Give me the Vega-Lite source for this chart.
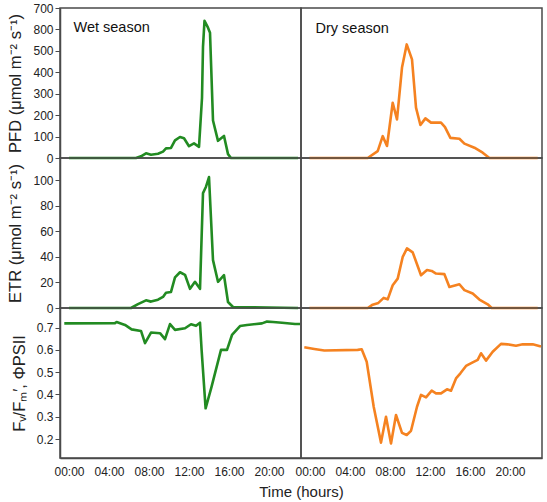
{
  "$schema": "https://vega.github.io/schema/vega-lite/v6.json",
  "background": "white",
  "padding": {"left": 7, "top": 1, "right": 2, "bottom": 0},
  "data": {"values": [
    {"s":"Wet","m":"PFD","h":0,"v":0},{"s":"Wet","m":"PFD","h":6.7,"v":0},{"s":"Wet","m":"PFD","h":7.2,"v":8},{"s":"Wet","m":"PFD","h":7.7,"v":22},{"s":"Wet","m":"PFD","h":8.2,"v":15},{"s":"Wet","m":"PFD","h":8.9,"v":20},{"s":"Wet","m":"PFD","h":9.4,"v":30},{"s":"Wet","m":"PFD","h":9.7,"v":45},{"s":"Wet","m":"PFD","h":10.2,"v":47},{"s":"Wet","m":"PFD","h":10.6,"v":82},{"s":"Wet","m":"PFD","h":11.1,"v":98},{"s":"Wet","m":"PFD","h":11.5,"v":92},{"s":"Wet","m":"PFD","h":12.0,"v":55},{"s":"Wet","m":"PFD","h":12.5,"v":68},{"s":"Wet","m":"PFD","h":13.0,"v":52},{"s":"Wet","m":"PFD","h":13.3,"v":280},{"s":"Wet","m":"PFD","h":13.4,"v":520},{"s":"Wet","m":"PFD","h":13.55,"v":640},{"s":"Wet","m":"PFD","h":13.9,"v":608},{"s":"Wet","m":"PFD","h":14.1,"v":585},{"s":"Wet","m":"PFD","h":14.4,"v":175},{"s":"Wet","m":"PFD","h":14.9,"v":80},{"s":"Wet","m":"PFD","h":15.5,"v":103},{"s":"Wet","m":"PFD","h":15.9,"v":18},{"s":"Wet","m":"PFD","h":16.2,"v":0},{"s":"Wet","m":"PFD","h":22.9,"v":0},
    {"s":"Wet","m":"ETR","h":0,"v":0},{"s":"Wet","m":"ETR","h":6.2,"v":0},{"s":"Wet","m":"ETR","h":6.9,"v":3},{"s":"Wet","m":"ETR","h":7.7,"v":6},{"s":"Wet","m":"ETR","h":8.2,"v":5},{"s":"Wet","m":"ETR","h":8.9,"v":6.5},{"s":"Wet","m":"ETR","h":9.4,"v":8.7},{"s":"Wet","m":"ETR","h":9.7,"v":12},{"s":"Wet","m":"ETR","h":10.2,"v":12.6},{"s":"Wet","m":"ETR","h":10.6,"v":24},{"s":"Wet","m":"ETR","h":11.1,"v":28},{"s":"Wet","m":"ETR","h":11.6,"v":26},{"s":"Wet","m":"ETR","h":12.1,"v":15},{"s":"Wet","m":"ETR","h":12.6,"v":20.5},{"s":"Wet","m":"ETR","h":13.1,"v":15},{"s":"Wet","m":"ETR","h":13.4,"v":90},{"s":"Wet","m":"ETR","h":13.7,"v":95},{"s":"Wet","m":"ETR","h":14.0,"v":102.6},{"s":"Wet","m":"ETR","h":14.4,"v":37.5},{"s":"Wet","m":"ETR","h":14.9,"v":20.5},{"s":"Wet","m":"ETR","h":15.5,"v":25.7},{"s":"Wet","m":"ETR","h":15.9,"v":4.7},{"s":"Wet","m":"ETR","h":16.4,"v":0.8},{"s":"Wet","m":"ETR","h":22.9,"v":0},
    {"s":"Wet","m":"FvFm","h":-0.47,"v":0.719},{"s":"Wet","m":"FvFm","h":4.6,"v":0.72},{"s":"Wet","m":"FvFm","h":4.76,"v":0.725},{"s":"Wet","m":"FvFm","h":5.6,"v":0.712},{"s":"Wet","m":"FvFm","h":6.26,"v":0.692},{"s":"Wet","m":"FvFm","h":7.2,"v":0.685},{"s":"Wet","m":"FvFm","h":7.6,"v":0.63},{"s":"Wet","m":"FvFm","h":8.2,"v":0.678},{"s":"Wet","m":"FvFm","h":9.1,"v":0.675},{"s":"Wet","m":"FvFm","h":9.6,"v":0.648},{"s":"Wet","m":"FvFm","h":10.1,"v":0.716},{"s":"Wet","m":"FvFm","h":10.6,"v":0.69},{"s":"Wet","m":"FvFm","h":11.6,"v":0.697},{"s":"Wet","m":"FvFm","h":12.2,"v":0.715},{"s":"Wet","m":"FvFm","h":12.7,"v":0.708},{"s":"Wet","m":"FvFm","h":13.1,"v":0.722},{"s":"Wet","m":"FvFm","h":13.26,"v":0.6},{"s":"Wet","m":"FvFm","h":13.66,"v":0.338},{"s":"Wet","m":"FvFm","h":14.26,"v":0.435},{"s":"Wet","m":"FvFm","h":15.2,"v":0.6},{"s":"Wet","m":"FvFm","h":15.8,"v":0.6},{"s":"Wet","m":"FvFm","h":16.3,"v":0.667},{"s":"Wet","m":"FvFm","h":17.1,"v":0.707},{"s":"Wet","m":"FvFm","h":17.8,"v":0.712},{"s":"Wet","m":"FvFm","h":19.3,"v":0.719},{"s":"Wet","m":"FvFm","h":19.8,"v":0.727},{"s":"Wet","m":"FvFm","h":20.4,"v":0.725},{"s":"Wet","m":"FvFm","h":21.3,"v":0.722},{"s":"Wet","m":"FvFm","h":22.6,"v":0.716},{"s":"Wet","m":"FvFm","h":23.1,"v":0.716},
    {"s":"Dry","m":"PFD","h":-0.06,"v":0},{"s":"Dry","m":"PFD","h":5.77,"v":0},{"s":"Dry","m":"PFD","h":6.77,"v":32},{"s":"Dry","m":"PFD","h":7.27,"v":102},{"s":"Dry","m":"PFD","h":7.7,"v":56},{"s":"Dry","m":"PFD","h":8.27,"v":258},{"s":"Dry","m":"PFD","h":8.7,"v":180},{"s":"Dry","m":"PFD","h":9.2,"v":422},{"s":"Dry","m":"PFD","h":9.67,"v":530},{"s":"Dry","m":"PFD","h":10.2,"v":460},{"s":"Dry","m":"PFD","h":10.6,"v":235},{"s":"Dry","m":"PFD","h":11.04,"v":154},{"s":"Dry","m":"PFD","h":11.54,"v":185},{"s":"Dry","m":"PFD","h":12.1,"v":165},{"s":"Dry","m":"PFD","h":13.1,"v":165},{"s":"Dry","m":"PFD","h":13.5,"v":144},{"s":"Dry","m":"PFD","h":14.04,"v":94},{"s":"Dry","m":"PFD","h":14.94,"v":90},{"s":"Dry","m":"PFD","h":15.44,"v":67},{"s":"Dry","m":"PFD","h":16.44,"v":48},{"s":"Dry","m":"PFD","h":17.27,"v":25},{"s":"Dry","m":"PFD","h":17.94,"v":0},{"s":"Dry","m":"PFD","h":22.77,"v":0},
    {"s":"Dry","m":"ETR","h":-0.06,"v":0},{"s":"Dry","m":"ETR","h":5.77,"v":0},{"s":"Dry","m":"ETR","h":6.27,"v":2.6},{"s":"Dry","m":"ETR","h":6.84,"v":4},{"s":"Dry","m":"ETR","h":7.37,"v":7.9},{"s":"Dry","m":"ETR","h":7.77,"v":6.8},{"s":"Dry","m":"ETR","h":8.27,"v":17.8},{"s":"Dry","m":"ETR","h":8.77,"v":23},{"s":"Dry","m":"ETR","h":9.27,"v":40},{"s":"Dry","m":"ETR","h":9.7,"v":46.7},{"s":"Dry","m":"ETR","h":10.27,"v":43.6},{"s":"Dry","m":"ETR","h":11.1,"v":25.7},{"s":"Dry","m":"ETR","h":11.7,"v":29.7},{"s":"Dry","m":"ETR","h":12.17,"v":29},{"s":"Dry","m":"ETR","h":12.6,"v":27},{"s":"Dry","m":"ETR","h":13.44,"v":26.5},{"s":"Dry","m":"ETR","h":13.94,"v":16.5},{"s":"Dry","m":"ETR","h":14.94,"v":18.6},{"s":"Dry","m":"ETR","h":15.44,"v":14},{"s":"Dry","m":"ETR","h":16.27,"v":11.3},{"s":"Dry","m":"ETR","h":16.94,"v":6.6},{"s":"Dry","m":"ETR","h":17.77,"v":2.9},{"s":"Dry","m":"ETR","h":18.17,"v":0},{"s":"Dry","m":"ETR","h":22.77,"v":0},
    {"s":"Dry","m":"FvFm","h":-0.57,"v":0.612},{"s":"Dry","m":"FvFm","h":0.43,"v":0.604},{"s":"Dry","m":"FvFm","h":1.43,"v":0.597},{"s":"Dry","m":"FvFm","h":4.77,"v":0.6},{"s":"Dry","m":"FvFm","h":5.17,"v":0.603},{"s":"Dry","m":"FvFm","h":5.67,"v":0.547},{"s":"Dry","m":"FvFm","h":6.37,"v":0.345},{"s":"Dry","m":"FvFm","h":7.1,"v":0.184},{"s":"Dry","m":"FvFm","h":7.6,"v":0.3},{"s":"Dry","m":"FvFm","h":8.1,"v":0.18},{"s":"Dry","m":"FvFm","h":8.6,"v":0.308},{"s":"Dry","m":"FvFm","h":9.2,"v":0.228},{"s":"Dry","m":"FvFm","h":9.67,"v":0.218},{"s":"Dry","m":"FvFm","h":10.1,"v":0.237},{"s":"Dry","m":"FvFm","h":10.7,"v":0.345},{"s":"Dry","m":"FvFm","h":11.1,"v":0.398},{"s":"Dry","m":"FvFm","h":11.6,"v":0.387},{"s":"Dry","m":"FvFm","h":12.17,"v":0.417},{"s":"Dry","m":"FvFm","h":12.6,"v":0.405},{"s":"Dry","m":"FvFm","h":13.1,"v":0.405},{"s":"Dry","m":"FvFm","h":13.7,"v":0.423},{"s":"Dry","m":"FvFm","h":14.1,"v":0.417},{"s":"Dry","m":"FvFm","h":14.6,"v":0.472},{"s":"Dry","m":"FvFm","h":15.04,"v":0.495},{"s":"Dry","m":"FvFm","h":15.6,"v":0.528},{"s":"Dry","m":"FvFm","h":16.27,"v":0.544},{"s":"Dry","m":"FvFm","h":16.77,"v":0.555},{"s":"Dry","m":"FvFm","h":17.1,"v":0.585},{"s":"Dry","m":"FvFm","h":17.6,"v":0.552},{"s":"Dry","m":"FvFm","h":18.27,"v":0.592},{"s":"Dry","m":"FvFm","h":19.1,"v":0.627},{"s":"Dry","m":"FvFm","h":19.77,"v":0.625},{"s":"Dry","m":"FvFm","h":20.6,"v":0.619},{"s":"Dry","m":"FvFm","h":21.27,"v":0.625},{"s":"Dry","m":"FvFm","h":22.27,"v":0.625},{"s":"Dry","m":"FvFm","h":23.1,"v":0.615}
  ]},
  "columns": 2,
  "spacing": 0,
  "bounds": "flush",
  "concat": [
      {"width": 241, "height": 150, "layer": [
        {"transform": [{"filter": "datum.s=='Wet' && datum.m=='PFD'"}],
         "mark": {"type": "line", "color": "#228b22", "strokeWidth": 2.6, "strokeJoin": "round"},
         "encoding": {
           "x": {"field": "h", "type": "quantitative", "scale": {"domain": [-0.9, 23.2], "nice": false, "zero": false}, "axis": null},
           "y": {"field": "v", "type": "quantitative", "scale": {"domain": [0, 700], "nice": false}, "axis": {"values": [0,100,200,300,400,500,600,700], "labelOverlap": false, "labelExpr": "datum.value==600?'800':datum.label", "title": "PFD (μmol m⁻² s⁻¹)"}}
         }},
        {"data": {"values": [{"t": "Wet season"}]},
         "mark": {"type": "text", "align": "left", "baseline": "alphabetic", "fontSize": 14.5, "font": "Liberation Sans", "color": "#111"},
         "encoding": {"x": {"datum": 0.45, "type": "quantitative", "axis": null}, "y": {"datum": 590, "type": "quantitative", "axis": {"values": [0,100,200,300,400,500,600,700], "labelOverlap": false, "labelExpr": "datum.value==600?'800':datum.label", "title": "PFD (μmol m⁻² s⁻¹)"}}, "text": {"field": "t"}}}
      ]},
      {"width": 241, "height": 150, "layer": [
        {"transform": [{"filter": "datum.s=='Dry' && datum.m=='PFD'"}],
         "mark": {"type": "line", "color": "#f58220", "strokeWidth": 2.6, "strokeJoin": "round"},
         "encoding": {
           "x": {"field": "h", "type": "quantitative", "scale": {"domain": [-0.9, 23.2], "nice": false, "zero": false}, "axis": null},
           "y": {"field": "v", "type": "quantitative", "scale": {"domain": [0, 700], "nice": false}, "axis": null}
         }},
        {"data": {"values": [{"t": "Dry season"}]},
         "mark": {"type": "text", "align": "left", "baseline": "alphabetic", "fontSize": 14.5, "font": "Liberation Sans", "color": "#111"},
         "encoding": {"x": {"datum": 0.55, "type": "quantitative", "axis": null}, "y": {"datum": 585, "type": "quantitative", "axis": null}, "text": {"field": "t"}}}
      ]},
      {"width": 241, "height": 150, "transform": [{"filter": "datum.s=='Wet' && datum.m=='ETR'"}],
       "mark": {"type": "line", "color": "#228b22", "strokeWidth": 2.6, "strokeJoin": "round"},
       "encoding": {
         "x": {"field": "h", "type": "quantitative", "scale": {"domain": [-0.9, 23.2], "nice": false, "zero": false}, "axis": null},
         "y": {"field": "v", "type": "quantitative", "scale": {"domain": [0, 117.5], "nice": false}, "axis": {"values": [0,20,40,60,80,100], "labelOverlap": false, "title": "ETR (μmol m⁻² s⁻¹)"}}
       }},
      {"width": 241, "height": 150, "transform": [{"filter": "datum.s=='Dry' && datum.m=='ETR'"}],
       "mark": {"type": "line", "color": "#f58220", "strokeWidth": 2.6, "strokeJoin": "round"},
       "encoding": {
         "x": {"field": "h", "type": "quantitative", "scale": {"domain": [-0.9, 23.2], "nice": false, "zero": false}, "axis": null},
         "y": {"field": "v", "type": "quantitative", "scale": {"domain": [0, 117.5], "nice": false}, "axis": null}
       }},
      {"width": 241, "height": 150, "transform": [{"filter": "datum.s=='Wet' && datum.m=='FvFm'"}],
       "mark": {"type": "line", "color": "#228b22", "strokeWidth": 2.6, "strokeJoin": "round"},
       "encoding": {
         "x": {"field": "h", "type": "quantitative", "scale": {"domain": [-0.9, 23.2], "nice": false, "zero": false},
               "axis": {"values": [0,4,8,12,16,20], "labelOverlap": false, "labelExpr": "(datum.value<10?'0':'')+datum.value+':00'", "ticks": false, "labelPadding": 8, "title": "Time (hours)", "titleX": 241, "titleAlign": "center", "titlePadding": 7, "titleFontSize": 15}},
         "y": {"field": "v", "type": "quantitative", "scale": {"domain": [0.115, 0.788], "nice": false, "zero": false}, "axis": {"values": [0.2,0.3,0.4,0.5,0.6,0.7], "labelOverlap": false, "format": ".1f", "title": "Fᵥ/Fₘ′,  ΦPSII"}}
       }},
      {"width": 241, "height": 150, "transform": [{"filter": "datum.s=='Dry' && datum.m=='FvFm'"}],
       "mark": {"type": "line", "color": "#f58220", "strokeWidth": 2.6, "strokeJoin": "round"},
       "encoding": {
         "x": {"field": "h", "type": "quantitative", "scale": {"domain": [-0.9, 23.2], "nice": false, "zero": false},
               "axis": {"values": [0,4,8,12,16,20], "labelOverlap": false, "labelExpr": "(datum.value<10?'0':'')+datum.value+':00'", "ticks": false, "labelPadding": 8, "title": null}},
         "y": {"field": "v", "type": "quantitative", "scale": {"domain": [0.115, 0.788], "nice": false, "zero": false}, "axis": null}
       }}
  ],
  "config": {
    "view": {"stroke": "#4a4a4a", "strokeWidth": 1.5},
    "axis": {"grid": false, "labelOverlap": false, "domainColor": "#4a4a4a", "domainWidth": 1.5, "tickColor": "#4a4a4a", "tickSize": 5, "labelPadding": 2, "labelFont": "Liberation Sans", "labelFontSize": 12, "labelColor": "#222", "titleFont": "Liberation Sans", "titleFontSize": 16.5, "titleFontWeight": "normal", "titleColor": "#222", "titlePadding": 9}
  }
}
